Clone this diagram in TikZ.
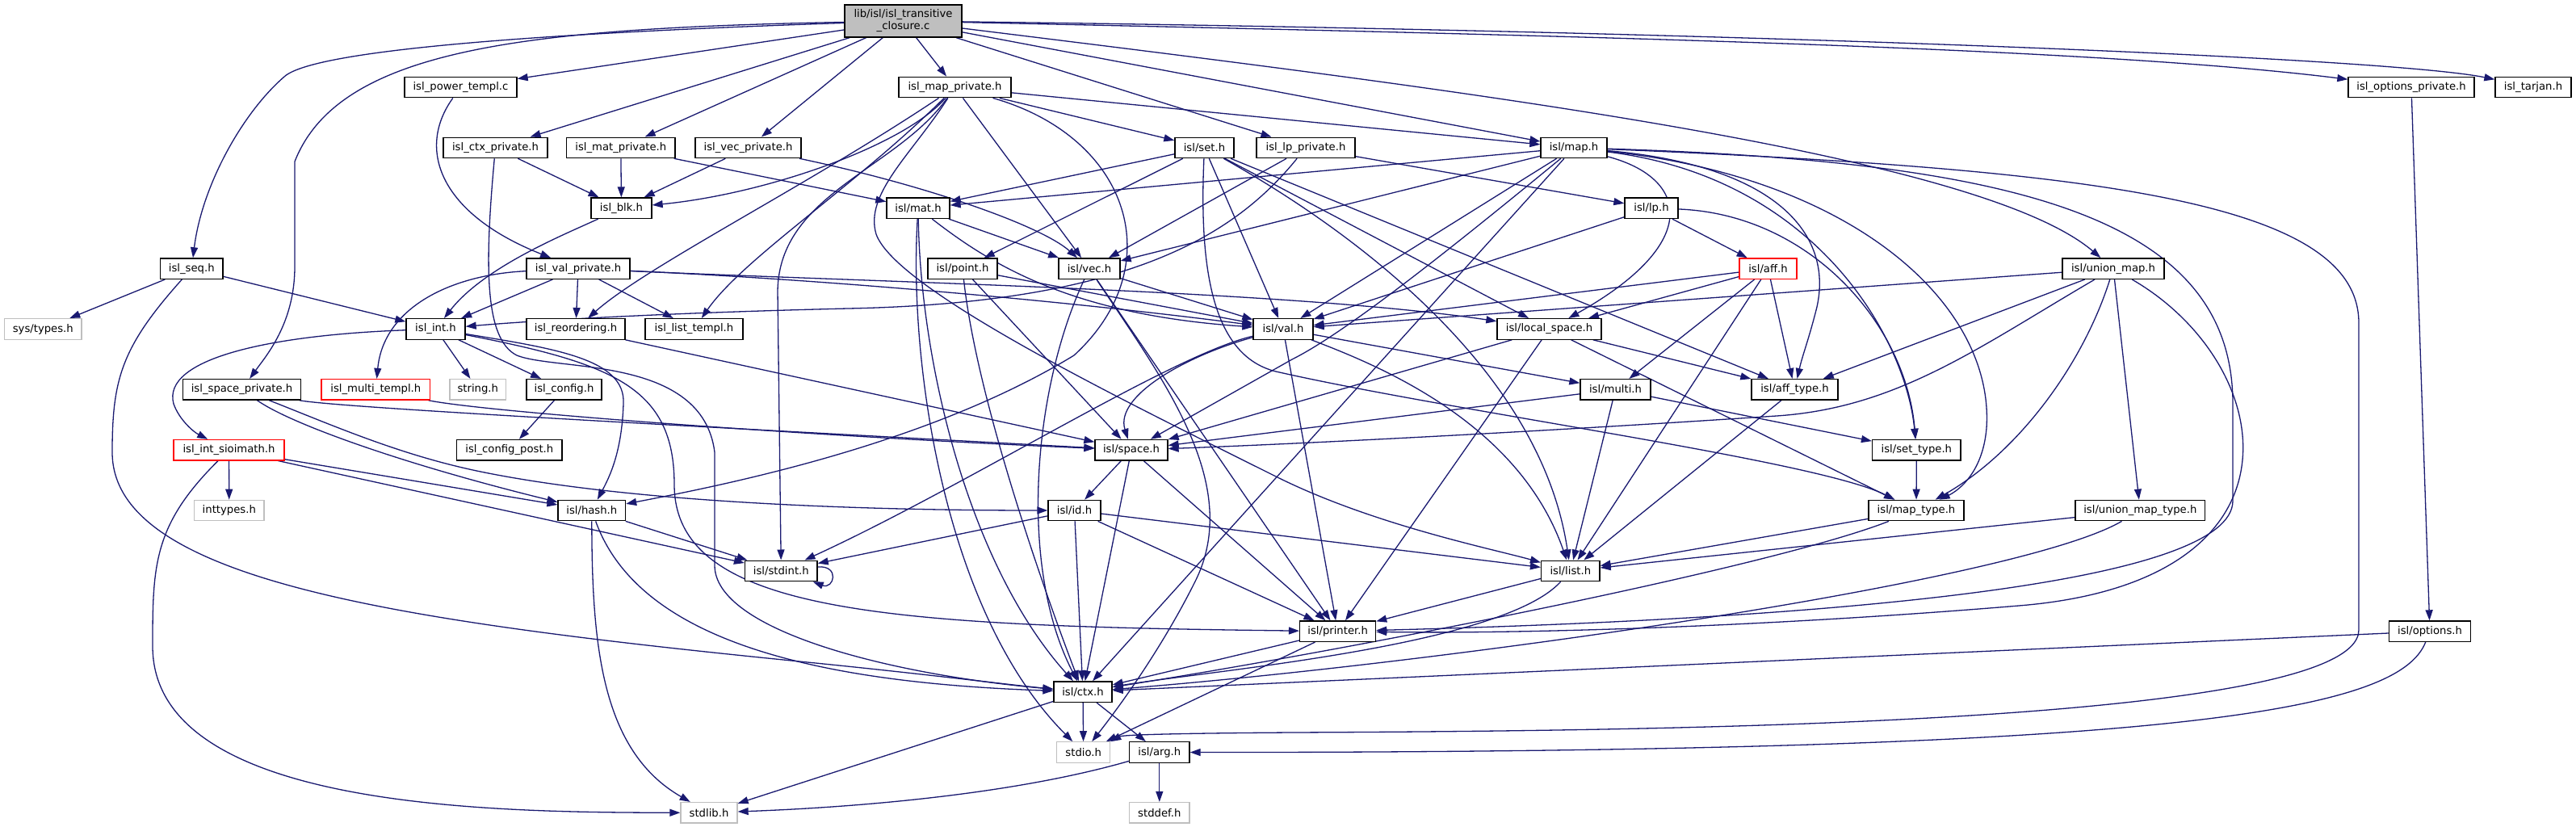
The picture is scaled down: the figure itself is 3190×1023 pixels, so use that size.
\documentclass[tikz,border=0pt]{standalone}
\usepackage{fontspec}
\setmainfont{DejaVu Sans}
\usetikzlibrary{arrows.meta}
\pgfdeclarelayer{bg}
\pgfsetlayers{bg,main}
\definecolor{edgecol}{HTML}{191970}
\definecolor{sysgray}{HTML}{BFBFBF}
\definecolor{rootfill}{HTML}{BFBFBF}
\newcommand\nodefnt{\fontsize{13.2}{15}\selectfont}
\tikzset{
 bx/.style={draw=black, line width=1.3pt, fill=white, inner sep=0pt, minimum height=25.5pt, font=\nodefnt},
 sysbx/.style={bx, draw=sysgray},
 redbx/.style={bx, draw=red},
 rootbx/.style={bx, fill=rootfill, minimum height=40pt, align=center},
 lnk/.style={draw=edgecol, line width=1.3pt, -{Triangle[length=13pt,width=9pt]}},
}
\begin{document}
\begin{tikzpicture}[x=1pt,y=-1pt]
\useasboundingbox (0,0) rectangle (3190,1023);
% nodes
\node[rootbx, minimum width=145pt] (R) at (1118.5,26) {lib/isl/isl\_transitive\\\_closure.c};
\node[bx, minimum width=139pt] (pow) at (570.5,108) {isl\_power\_templ.c};
\node[bx, minimum width=139pt] (mapp) at (1182.5,108) {isl\_map\_private.h};
\node[bx, minimum width=156pt] (optp) at (2986,108) {isl\_options\_private.h};
\node[bx, minimum width=94pt] (tarjan) at (3137,108) {isl\_tarjan.h};
\node[bx, minimum width=129pt] (ctxp) at (613.5,182.9) {isl\_ctx\_private.h};
\node[bx, minimum width=134.5pt] (matp) at (768.8,182.9) {isl\_mat\_private.h};
\node[bx, minimum width=131pt] (vecp) at (926.5,182.9) {isl\_vec\_private.h};
\node[bx, minimum width=73pt] (set) at (1491.5,182.9) {isl/set.h};
\node[bx, minimum width=122pt] (lpp) at (1617,182.9) {isl\_lp\_private.h};
\node[bx, minimum width=82pt] (map) at (1949,182.9) {isl/map.h};
\node[bx, minimum width=75pt] (blk) at (769.5,257.7) {isl\_blk.h};
\node[bx, minimum width=78pt] (mat) at (1137,257.7) {isl/mat.h};
\node[bx, minimum width=66pt] (lp) at (2045,257.7) {isl/lp.h};
\node[bx, minimum width=77.5pt] (seq) at (237.3,332.6) {isl\_seq.h};
\node[bx, minimum width=128pt] (valp) at (716,332.6) {isl\_val\_private.h};
\node[bx, minimum width=86pt] (point) at (1192,332.6) {isl/point.h};
\node[bx, minimum width=76pt] (vec) at (1349,332.6) {isl/vec.h};
\node[redbx, minimum width=71pt] (aff) at (2189.5,332.6) {isl/aff.h};
\node[bx, minimum width=126pt] (umap) at (2617,332.6) {isl/union\_map.h};
\node[sysbx, minimum width=95.4pt] (systypes) at (53.3,407.4) {sys/types.h};
\node[bx, minimum width=73pt] (int) at (539.5,407.4) {isl\_int.h};
\node[bx, minimum width=122pt] (reord) at (713,407.4) {isl\_reordering.h};
\node[bx, minimum width=121pt] (listt) at (859.5,407.4) {isl\_list\_templ.h};
\node[bx, minimum width=74pt] (val) at (1589,407.4) {isl/val.h};
\node[bx, minimum width=129pt] (ls) at (1918.5,407.4) {isl/local\_space.h};
\node[bx, minimum width=146pt] (spacep) at (299.5,482.3) {isl\_space\_private.h};
\node[redbx, minimum width=134.5pt] (multit) at (465.3,482.3) {isl\_multi\_templ.h};
\node[sysbx, minimum width=69.5pt] (string) at (591.8,482.3) {string.h};
\node[bx, minimum width=93pt] (config) at (698.5,482.3) {isl\_config.h};
\node[bx, minimum width=87pt] (multi) at (2000.5,482.3) {isl/multi.h};
\node[bx, minimum width=107pt] (afft) at (2222.5,482.3) {isl/aff\_type.h};
\node[redbx, minimum width=137pt] (sioi) at (283.5,557.2) {isl\_int\_sioimath.h};
\node[bx, minimum width=130.5pt] (configp) at (630.8,557.2) {isl\_config\_post.h};
\node[bx, minimum width=90pt] (space) at (1401,557.2) {isl/space.h};
\node[bx, minimum width=109.5pt] (sett) at (2373.3,557.2) {isl/set\_type.h};
\node[sysbx, minimum width=86.4pt] (inttypes) at (283.8,632) {inttypes.h};
\node[bx, minimum width=83.5pt] (hash) at (732.8,632) {isl/hash.h};
\node[bx, minimum width=65pt] (id) at (1330.5,632) {isl/id.h};
\node[bx, minimum width=118pt] (mapt) at (2373,632) {isl/map\_type.h};
\node[bx, minimum width=160.5pt] (umapt) at (2650.3,632) {isl/union\_map\_type.h};
\node[bx, minimum width=89.5pt] (stdint) at (967.3,706.9) {isl/stdint.h};
\node[bx, minimum width=72.5pt] (list) at (1944.8,706.9) {isl/list.h};
\node[bx, minimum width=94pt] (printer) at (1656.6,781.7) {isl/printer.h};
\node[bx, minimum width=101pt] (options) at (3009,781.7) {isl/options.h};
\node[bx, minimum width=72pt] (ctx) at (1341,856.6) {isl/ctx.h};
\node[sysbx, minimum width=66pt] (stdio) at (1341.7,931.5) {stdio.h};
\node[bx, minimum width=74.5pt] (arg) at (1435.8,931.5) {isl/arg.h};
\node[sysbx, minimum width=70pt] (stdlib) at (878,1006.3) {stdlib.h};
\node[sysbx, minimum width=74.5pt] (stddef) at (1435.8,1006.3) {stddef.h};

\begin{pgfonlayer}{bg}
\fill[white] (0,0) rectangle (3190,1023);
% root
\draw[lnk] (R) -- (pow);
\draw[lnk] (R) -- (mapp);
\draw[lnk] (R) -- (ctxp);
\draw[lnk] (R) -- (matp);
\draw[lnk] (R) -- (vecp);
\draw[lnk] (R) -- (lpp);
\draw[lnk] (R) -- (map);
\draw[lnk] (R) .. controls (2000,45) and (2600,60) .. (optp);
\draw[lnk] (R) .. controls (2100,38) and (2950,70) .. (tarjan);
\draw[lnk] (R) .. controls (1800,110) and (2450,190) .. (umap);
\draw[lnk] (R) .. controls (700,40) and (390,60) .. (352,95) .. controls (300,140) and (250,230) .. (seq);
\draw[lnk] (R) .. controls (650,35) and (420,60) .. (365,200) -- (365,330) .. controls (365,400) and (330,440) .. (spacep);
% power templ
\draw[lnk] (pow) .. controls (515,185) and (545,265) .. (valp);
% map private
\draw[lnk] (mapp) -- (map);
\draw[lnk] (mapp) -- (set);
\draw[lnk] (mapp) -- (vec);
\draw[lnk] (mapp) .. controls (1120,180) and (950,240) .. (blk);
\draw[lnk] (mapp) .. controls (1000,230) and (800,330) .. (reord);
\draw[lnk] (mapp) .. controls (1060,230) and (920,320) .. (listt);
\draw[lnk] (mapp) .. controls (1400,170) and (1450,330) .. (1330,440) .. controls (1150,550) and (900,600) .. (hash);
\draw[lnk] (mapp) .. controls (1110,210) and (965,240) .. (963,360) -- (stdint);
\draw[lnk] (mapp) .. controls (1130,190) and (1070,240) .. (1085,290) .. controls (1110,360) and (1400,500) .. (1580,590) .. controls (1700,650) and (1850,680) .. (list);
% ctx private, mat private, vec private
\draw[lnk] (ctxp) -- (blk);
\draw[lnk] (ctxp) .. controls (600,330) and (600,420) .. (640,440) .. controls (690,460) and (870,440) .. (885,560) -- (885,700) .. controls (885,780) and (1100,835) .. (ctx);
\draw[lnk] (matp) -- (blk);
\draw[lnk] (matp) -- (mat);
\draw[lnk] (vecp) -- (blk);
\draw[lnk] (vecp) .. controls (1150,230) and (1290,280) .. (vec);
% val private
\draw[lnk] (valp) -- (int);
\draw[lnk] (valp) -- (reord);
\draw[lnk] (valp) -- (listt);
\draw[lnk] (valp) .. controls (560,340) and (475,380) .. (multit);
\draw[lnk] (valp) .. controls (1000,345) and (1300,370) .. (val);
\draw[lnk] (valp) .. controls (1100,350) and (1600,360) .. (ls);
% lp private
\draw[lnk] (lpp) -- (lp);
\draw[lnk] (lpp) -- (vec);
\draw[lnk] (lpp) .. controls (1530,290) and (1400,375) .. (1050,382) .. controls (800,388) and (650,398) .. (int);
% set
\draw[lnk] (set) -- (mat);
\draw[lnk] (set) -- (point);
\draw[lnk] (set) -- (val);
\draw[lnk] (set) -- (ls);
\draw[lnk] (set) -- (afft);
\draw[lnk] (set) .. controls (1700,300) and (1910,470) .. (list);
\draw[lnk] (set) .. controls (1485,330) and (1500,440) .. (1580,460) .. controls (1800,510) and (2250,570) .. (mapt);
% map
\draw[lnk] (map) -- (mat);
\draw[lnk] (map) -- (vec);
\draw[lnk] (map) -- (val);
\draw[lnk] (map) -- (ctx);
\draw[lnk] (map) .. controls (2090,220) and (2110,300) .. (ls);
\draw[lnk] (map) .. controls (2200,205) and (2270,290) .. (2250,380) .. controls (2240,420) and (2232,440) .. (afft);
\draw[lnk] (map) .. controls (2300,220) and (2470,380) .. (2460,530) .. controls (2455,590) and (2420,610) .. (mapt);
\draw[lnk] (map) .. controls (2250,220) and (2360,420) .. (sett);
\draw[lnk] (map) .. controls (1770,330) and (1660,415) .. (1600,445) -- (space);
\draw[lnk] (map) .. controls (2500,200) and (2765,270) .. (2765,500) -- (2765,620) .. controls (2765,720) and (2300,765) .. (printer);
\draw[lnk] (map) .. controls (2600,210) and (2921,250) .. (2921,400) -- (2921,780) .. controls (2921,900) and (2000,905) .. (1600,907) .. controls (1450,908) and (1390,910) .. (stdio.north east);
% mat
\draw[lnk] (mat) -- (vec);
\draw[lnk] (mat) .. controls (1230,330) and (1330,390) .. (val);
\draw[lnk] (mat) .. controls (1140,450) and (1200,700) .. (ctx);
\draw[lnk] (mat) .. controls (1125,450) and (1170,760) .. (stdio);
% point
\draw[lnk] (point) -- (val);
\draw[lnk] (point) -- (space);
\draw[lnk] (point) .. controls (1210,500) and (1300,750) .. (ctx);
% vec
\draw[lnk] (vec) -- (val);
\draw[lnk] (vec) -- (printer);
\draw[lnk] (vec) .. controls (1280,480) and (1260,700) .. (ctx);
\draw[lnk] (vec) .. controls (1440,470) and (1540,600) .. (1480,720) .. controls (1440,800) and (1390,870) .. (stdio);
% seq
\draw[lnk] (seq) -- (systypes);
\draw[lnk] (seq) -- (int);
\draw[lnk] (seq) .. controls (150,430) and (139,470) .. (139,560) .. controls (139,720) and (500,770) .. (1000,820) .. controls (1150,835) and (1250,848) .. (ctx);
% blk
\draw[lnk] (blk) .. controls (700,290) and (600,330) .. (int);
% int
\draw[lnk] (int) -- (string);
\draw[lnk] (int) -- (config);
\draw[lnk] (int) .. controls (330,415) and (200,445) .. (215,500) .. controls (222,520) and (240,535) .. (sioi);
\draw[lnk] (int) .. controls (690,432) and (775,445) .. (772,500) .. controls (770,560) and (755,590) .. (hash);
\draw[lnk] (int) .. controls (760,450) and (835,480) .. (835,600) .. controls (835,760) and (1100,775) .. (printer);
% space private, multi templ, reordering, config
\draw[lnk] (spacep) .. controls (420,505) and (900,530) .. (space);
\draw[lnk] (spacep) .. controls (360,525) and (500,575) .. (hash);
\draw[lnk] (spacep) .. controls (420,530) and (500,565) .. (600,585) .. controls (800,625) and (1100,632) .. (id);
\draw[lnk] (multit) .. controls (600,510) and (1000,540) .. (space);
\draw[lnk] (reord) -- (space);
\draw[lnk] (config) -- (configp);
% sioimath
\draw[lnk] (sioi) -- (inttypes);
\draw[lnk] (sioi) -- (hash);
\draw[lnk] (sioi) -- (stdint);
\draw[lnk] (sioi) .. controls (190,650) and (189,700) .. (189,800) .. controls (189,1000) and (600,1006) .. (stdlib);
% hash
\draw[lnk] (hash) -- (stdint);
\draw[lnk] (hash) .. controls (733,800) and (745,930) .. (stdlib);
\draw[lnk] (hash) .. controls (790,790) and (1000,845) .. (ctx);
% stdint self loop
\draw[lnk] ([yshift=5pt]stdint.east) .. controls +(28,-2) and +(26,10) .. ([xshift=-6pt]stdint.south east);
% id, space
\draw[lnk] (id) -- (list);
\draw[lnk] (id) -- (printer);
\draw[lnk] (id) -- (ctx);
\draw[lnk] (id) -- (stdint);
\draw[lnk] (space) -- (id);
\draw[lnk] (space) -- (ctx);
\draw[lnk] (space) -- (printer);
% val
\draw[lnk] (val) -- (multi);
\draw[lnk] (val) -- (printer);
\draw[lnk] (val) .. controls (1700,450) and (1880,520) .. (list);
\draw[lnk] (val) .. controls (1470,440) and (1380,490) .. (space);
\draw[lnk] (val) .. controls (1450,440) and (1200,600) .. (stdint);
% local space
\draw[lnk] (ls) -- (space);
\draw[lnk] (ls) -- (printer);
\draw[lnk] (ls) -- (afft);
\draw[lnk] (ls) -- (mapt);
% multi
\draw[lnk] (multi) -- (space);
\draw[lnk] (multi) -- (list);
\draw[lnk] (multi) -- (sett);
% aff
\draw[lnk] (aff) -- (ls);
\draw[lnk] (aff) -- (val);
\draw[lnk] (aff) -- (multi);
\draw[lnk] (aff) -- (afft);
\draw[lnk] (aff) -- (list);
% union map
\draw[lnk] (umap) -- (afft);
\draw[lnk] (umap) -- (umapt);
\draw[lnk] (umap) -- (val);
\draw[lnk] (umap) .. controls (2580,450) and (2500,560) .. (mapt);
\draw[lnk] (umap) .. controls (2450,430) and (2350,505) .. (2200,515) .. controls (1900,535) and (1600,550) .. (space);
\draw[lnk] (umap) .. controls (2820,450) and (2870,720) .. (2500,750) .. controls (2200,775) and (1900,785) .. (printer);
% lp
\draw[lnk] (lp) -- (val);
\draw[lnk] (lp) -- (aff);
\draw[lnk] (lp) .. controls (2240,265) and (2360,400) .. (sett);
% types
\draw[lnk] (afft) -- (list);
\draw[lnk] (sett) -- (mapt);
\draw[lnk] (mapt) -- (list);
\draw[lnk] (mapt) .. controls (2200,700) and (1700,800) .. (ctx);
\draw[lnk] (umapt) -- (list);
\draw[lnk] (umapt) .. controls (2500,720) and (1800,820) .. (ctx);
% list, printer, ctx, arg
\draw[lnk] (list) -- (printer);
\draw[lnk] (list) .. controls (1860,800) and (1500,830) .. (ctx);
\draw[lnk] (printer) -- (ctx);
\draw[lnk] (printer) -- (stdio);
\draw[lnk] (ctx) -- (stdio);
\draw[lnk] (ctx) -- (arg);
\draw[lnk] (ctx) -- (stdlib);
\draw[lnk] (arg) -- (stddef);
\draw[lnk] (arg) .. controls (1250,985) and (1050,1000) .. (stdlib);
% options
\draw[lnk] (optp) -- (options);
\draw[lnk] (options) -- (ctx);
\draw[lnk] (options) .. controls (2970,880) and (2700,932) .. (arg);
\end{pgfonlayer}
\end{tikzpicture}
\end{document}
